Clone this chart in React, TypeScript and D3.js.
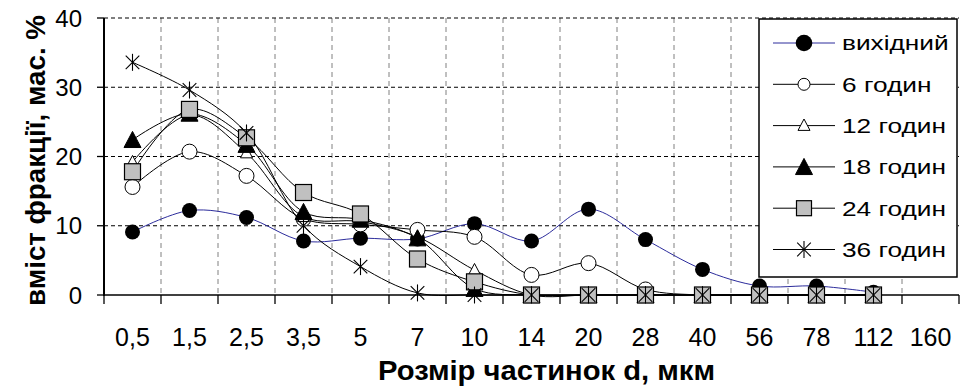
import React from "react";
import * as d3 from "d3";

// Particle size classes, µm
const sizes = ["0,5", "1,5", "2,5", "3,5", "5", "7", "10", "14", "20", "28", "40", "56", "78", "112", "160"];
const yTicks = [0, 10, 20, 30, 40];

// Fraction content, wt. %, per milling time
const initial = [9.1, 12.2, 11.2, 7.8, 8.2, 8.1, 10.3, 7.8, 12.4, 8.0, 3.7, 1.3, 1.3, 0.4];
const h6 = [15.6, 20.7, 17.2, 11.0, 10.2, 9.4, 8.4, 2.9, 4.6, 0.8, 0, 0, 0, 0];
const h12 = [19.2, 26.0, 20.5, 11.3, 10.6, 8.4, 3.6, 0, 0, 0, 0, 0, 0, 0];
const h18 = [22.4, 26.2, 21.7, 12.0, 10.9, 8.2, 0.9, 0, 0, 0, 0, 0, 0, 0];
const h24 = [17.8, 26.8, 22.7, 14.8, 11.7, 5.2, 1.9, 0, 0, 0, 0, 0, 0, 0];
const h36 = [33.6, 29.6, 23.4, 10.0, 4.1, 0.3, 0, 0, 0, 0, 0, 0, 0, 0];

const seriesNames = ["вихідний", "6 годин", "12 годин", "18 годин", "24 годин", "36 годин"];
const seriesValues = [initial, h6, h12, h18, h24, h36];
const seriesMarkers = ["dot", "circle", "triOpen", "tri", "square", "star"];

const xTitle = "Розмір частинок d, мкм";
const yTitle = "вміст фракції, мас. %";

const W = 960;
const H = 389;
const left = 104;
const right = 959;
const top = 18;
const bottom = 295;
const FONT = "'Liberation Sans', Arial, sans-serif";

function Marker({ kind, cx, cy, legend = false }: { kind: string; cx: number; cy: number; legend?: boolean }) {
  switch (kind) {
    case "dot": {
      const r = legend ? 8.3 : 7.5;
      return <circle cx={cx} cy={cy} r={r} fill="#000" />;
    }
    case "circle": {
      const r = legend ? 6 : 7.5;
      return <circle cx={cx} cy={cy} r={r} fill="#fff" stroke="#000" strokeWidth={1} />;
    }
    case "triOpen": {
      const s = legend ? 6 : 6;
      const p = `${cx},${cy - s * 1.1} ${cx + s},${cy + s * 0.8} ${cx - s},${cy + s * 0.8}`;
      return <polygon points={p} fill="#fff" stroke="#000" strokeWidth={1} />;
    }
    case "tri": {
      const s = 8.5;
      const p = `${cx},${cy - s} ${cx + s},${cy + s * 0.9} ${cx - s},${cy + s * 0.9}`;
      return <polygon points={p} fill="#000" stroke="#000" strokeWidth={1} />;
    }
    case "square": {
      const s = legend ? 7.5 : 8;
      return <rect x={cx - s} y={cy - s} width={2 * s} height={2 * s} fill="#c0c0c0" stroke="#000" strokeWidth={1.2} />;
    }
    case "star": {
      const s = 8.5;
      const d = s * 0.8;
      return (
        <g stroke="#000" strokeWidth={1.1}>
          <line x1={cx - d} y1={cy - d} x2={cx + d} y2={cy + d} />
          <line x1={cx - d} y1={cy + d} x2={cx + d} y2={cy - d} />
          <line x1={cx} y1={cy - s} x2={cx} y2={cy + s} />
        </g>
      );
    }
    default:
      return null;
  }
}

export default function App() {
  const x = d3.scaleBand<string>().domain(sizes).range([left, right]).paddingInner(0).paddingOuter(0);
  const bw = x.bandwidth();
  const cx = (i: number) => (x(sizes[i]) as number) + bw / 2;
  const y = d3.scaleLinear().domain([0, 40]).range([bottom, top]);

  const line = d3
    .line<number>()
    .x((_, i) => cx(i))
    .y((d) => y(d))
    .curve(d3.curveCatmullRom.alpha(0.5));

  const boundaries = sizes.map((c) => x(c) as number).concat([right]);

  const legX = 759;
  const legY = 19;
  const legW = 198;
  const legH = 258;
  const rowY = (i: number) => 43 + i * 41.3;

  return (
    <svg
      width={W}
      height={H}
      viewBox={`0 0 ${W} ${H}`}
      style={{ position: "absolute", left: 0, top: 0, background: "#fff" }}
      fontFamily={FONT}
    >
      <rect x={0} y={0} width={W} height={H} fill="#fff" />

      {/* vertical grid */}
      {boundaries.slice(1, -1).map((bx, i) => (
        <line key={"vg" + i} x1={bx} x2={bx} y1={top} y2={bottom} stroke="#808080" strokeWidth={1} strokeDasharray="5,4" />
      ))}
      {/* horizontal grid */}
      {yTicks.filter((t) => t > 0).map((t) => (
        <line key={"hg" + t} x1={left} x2={right} y1={y(t)} y2={y(t)} stroke="#000" strokeWidth={1.2} strokeDasharray="4,3" />
      ))}

      {/* x axis */}
      <line x1={left} x2={right} y1={bottom} y2={bottom} stroke="#404040" strokeWidth={2} />
      {boundaries.map((bx, i) => (
        <line key={"xt" + i} x1={bx} x2={bx} y1={bottom} y2={bottom + 9} stroke="#000" strokeWidth={1.3} />
      ))}
      {sizes.map((c, i) => (
        <text key={"xl" + c} x={cx(i)} y={346} fontSize={25} textAnchor="middle" fill="#000">
          {c}
        </text>
      ))}

      {/* y axis */}
      <line x1={left} x2={left} y1={top} y2={bottom + 1} stroke="#000" strokeWidth={2} />
      {yTicks.map((t) => (
        <g key={"yt" + t}>
          <line x1={left - 7} x2={left} y1={y(t)} y2={y(t)} stroke="#000" strokeWidth={1.3} />
          <text x={82} y={y(t) + 8.5} fontSize={24} textAnchor="end" fill="#000">
            {t}
          </text>
        </g>
      ))}

      {/* series lines */}
      {seriesValues.map((vals, si) => (
        <path
          key={"ln" + si}
          d={line(vals) || ""}
          fill="none"
          stroke={si === 0 ? "#2c2c9c" : "#000"}
          strokeWidth={1}
        />
      ))}
      {/* series markers */}
      {seriesValues.map((vals, si) => (
        <g key={"mk" + si}>
          {vals.map((v, i) => (
            <Marker key={i} kind={seriesMarkers[si]} cx={cx(i)} cy={y(v)} />
          ))}
        </g>
      ))}

      {/* axis titles */}
      <text
        x={546.5}
        y={380}
        fontSize={28}
        fontWeight="bold"
        textAnchor="middle"
        textLength={337}
        lengthAdjust="spacingAndGlyphs"
        fill="#000"
      >
        {xTitle}
      </text>
      <text
        transform={`translate(45,160.5) rotate(-90)`}
        fontSize={27}
        fontWeight="bold"
        textAnchor="middle"
        textLength={291}
        lengthAdjust="spacingAndGlyphs"
        fill="#000"
      >
        {yTitle}
      </text>

      {/* legend */}
      <rect x={legX} y={legY} width={legW} height={legH} fill="#fff" stroke="#000" strokeWidth={1.5} />
      {seriesNames.map((name, i) => (
        <g key={"lg" + i}>
          <line x1={773} x2={835} y1={rowY(i)} y2={rowY(i)} stroke={i === 0 ? "#2c2c9c" : "#000"} strokeWidth={1} />
          <Marker kind={seriesMarkers[i]} cx={804} cy={rowY(i)} legend />
          <text
            x={842}
            y={rowY(i) + 7.5}
            fontSize={21}
            fill="#000"
            transform={`translate(842,0) scale(1.25,1) translate(-842,0)`}
          >
            {name}
          </text>
        </g>
      ))}
    </svg>
  );
}
